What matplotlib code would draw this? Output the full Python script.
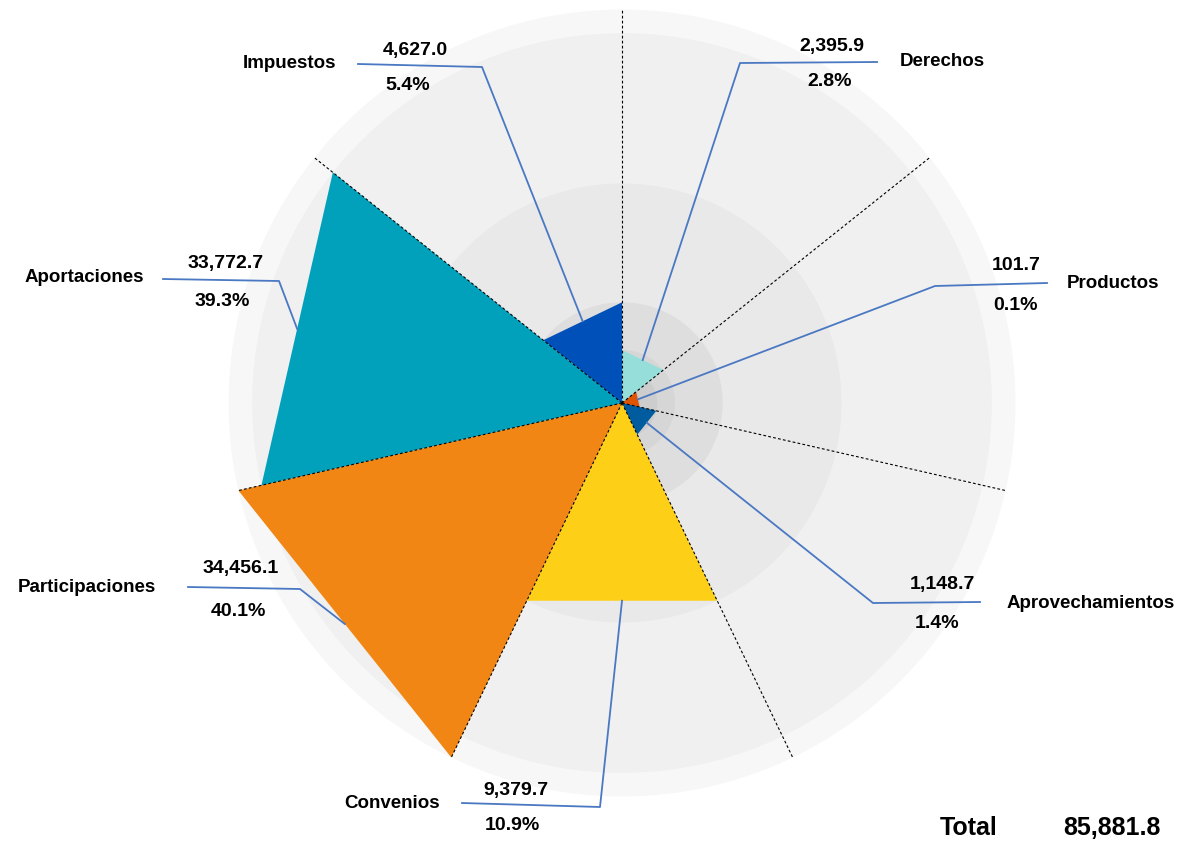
import numpy as np
import matplotlib
matplotlib.use('Agg')
from matplotlib import pyplot as plt
from matplotlib.lines import Line2D

categories = ['Impuestos', 'Derechos', 'Productos', 'Aprovechamientos',
              'Convenios', 'Participaciones', 'Aportaciones']
values = [4627.0, 2395.9, 101.7, 1148.7, 9379.7, 34456.1, 33772.7]
percents = [5.4, 2.8, 0.1, 1.4, 10.9, 40.1, 39.3]
total = 85881.8

colors = ['#0050b9', '#95ded9', '#e05300', '#005c9e',
          '#fdd017', '#f18614', '#01a1bc']
# background discs, from the largest value (lightest) to the smallest
disc_grays = ['#f7f7f7', '#f0f0f0', '#e9e9e9', '#dedede',
              '#d6d6d6', '#cdcdcd', '#c4c4c4']

# radial axis is compressed for the big values: knots value -> radius units
scale_vals = [0, 100, 1200, 2400, 4600, 9400, 33800, 34500, 40000]
scale_r = [0, 18, 36, 53, 100, 220, 370, 395, 430]


def fwd(v):
    return np.interp(v, scale_vals, scale_r)


def inv(r):
    return np.interp(r, scale_r, scale_vals)


# label layout in image pixels (x, y from top)
# name, value, percent, elbow of the leader line, end of the leader line
layout = {
    'Impuestos':        [(289, 64), (415, 51), (408, 85), (482, 67), (358, 64)],
    'Derechos':         [(942, 62), (832, 46), (830, 82), (740, 63), (877, 62)],
    'Productos':        [(1113, 284), (1016, 265), (1015, 305), (935, 286), (1047, 283)],
    'Aprovechamientos': [(1091, 603), (942, 584), (937, 624), (873, 603), (980, 602)],
    'Convenios':        [(392, 803), (516, 790), (512, 826), (600, 807), (462, 803)],
    'Participaciones':  [(87, 588), (241, 568), (238, 611), (300, 589), (188, 587)],
    'Aportaciones':     [(84, 278), (226, 263), (222, 301), (279, 281), (163, 279)],
}

W, H = 1180, 844
cx, cy, R = 622, 403, 410

plt.rcParams['font.family'] = ['Liberation Sans', 'DejaVu Sans']

fig = plt.figure(figsize=(W / 100, H / 100), dpi=100)
ax = fig.add_axes([(cx - R) / W, (H - cy - R) / H, 2 * R / W, 2 * R / H],
                  projection='polar')
ax.set_theta_zero_location('N')
ax.set_theta_direction(-1)
ax.set_rscale('function', functions=(fwd, inv))
ax.set_rlim(0, inv(R))
ax.set_axis_off()

n = len(categories)
step = 2 * np.pi / n

# background discs
tc = np.linspace(0, 2 * np.pi, 361)
order = np.argsort(values)[::-1]
for rank, i in enumerate(order):
    ax.fill(tc, np.full(tc.size, values[i]), color=disc_grays[rank],
            lw=0, zorder=1)

# wedges
for i, v in enumerate(values):
    t0 = (i - 1) * step
    t1 = i * step
    ax.fill([0, t0, t1], [0, v, v], color=colors[i], lw=0, zorder=3)

# dashed radial axes
for k in range(n):
    ax.plot([k * step, k * step], [0, max(values)], color='black', lw=0.8,
            ls=(0, (2.5, 2)), zorder=4)


def to_fig(p):
    return p[0] / W, 1 - p[1] / H


for i, name in enumerate(categories):
    v = values[i]
    t0 = (i - 1) * step
    t1 = i * step
    p0 = ax.transData.transform((t0, v))
    p1 = ax.transData.transform((t1, v))
    mid = (p0 + p1) / 2
    pn, pv, pp, elbow, end = layout[name]
    ex, ey = to_fig(elbow)
    nx, ny = to_fig(end)
    fig.add_artist(Line2D([mid[0] / W, ex, nx], [mid[1] / H, ey, ny],
                          transform=fig.transFigure, color='#4a78c2',
                          lw=1.3, zorder=5))
    fig.text(*to_fig(pn), name, ha='center', va='center', fontsize=13.5,
             fontweight='bold', color='black')
    fig.text(*to_fig(pv), f'{v:,.1f}', ha='center', va='center',
             fontsize=14, fontweight='bold', color='black')
    fig.text(*to_fig(pp), f'{percents[i]:.1f}%', ha='center', va='center',
             fontsize=14, fontweight='bold', color='black')

fig.text(*to_fig((969, 828)), 'Total', ha='center', va='center',
         fontsize=18, fontweight='bold', color='black')
fig.text(*to_fig((1112, 828)), f'{total:,.1f}', ha='center', va='center',
         fontsize=18, fontweight='bold', color='black')

fig.savefig('out.png', dpi=100, facecolor='white')
